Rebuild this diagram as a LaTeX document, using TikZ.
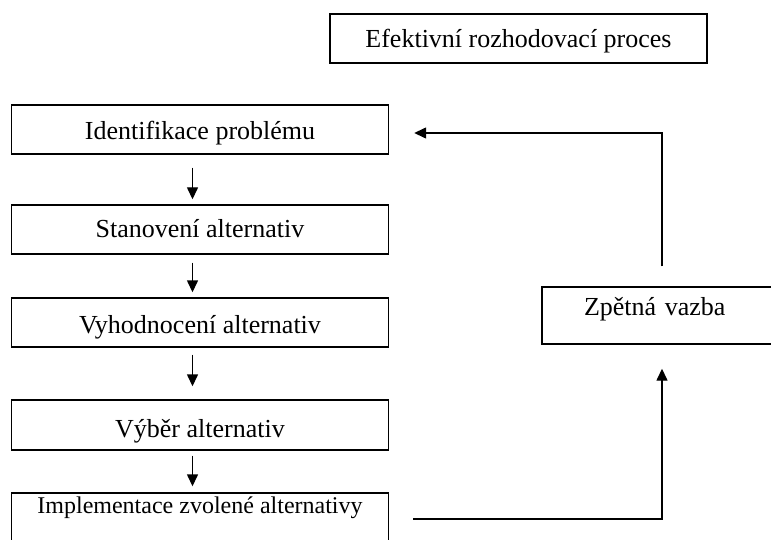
\documentclass[tikz,border=0pt]{standalone}
\usepackage{fontspec}
\setmainfont{Liberation Serif}
\usetikzlibrary{arrows.meta,calc}
\begin{document}
\begin{tikzpicture}[x=1pt,y=-1pt,
  box/.style={draw, line width=1.4pt, minimum width=377pt, minimum height=49pt, inner ysep=0pt, inner xsep=0pt, font=\fontsize{26}{30}\selectfont},
  arr/.style={line width=1.4pt, -{Triangle[length=12pt,width=11pt]}}]
\useasboundingbox (0,0) rectangle (771,540);
\clip (0,0) rectangle (771,540);

\node[box, text height=19pt, text depth=0pt] (title) at (518.5,38.5) {Efektivní rozhodovací proces};

\node[box, text height=21pt, text depth=0pt] (ident) at (200,129.5) {Identifikace problému};
\node[box, text height=15pt, text depth=0pt] (stan) at (200,229.5) {Stanovení alternativ};
\node[box, text height=21pt, text depth=0pt] (vyh) at (200,322.5) {Vyhodnocení alternativ};
\node[box, minimum height=50pt, text height=24pt, text depth=0pt] (vyb) at (200,425) {Výběr alternativ};
\node[box, minimum height=52pt, text height=0pt, text depth=12pt, font=\fontsize{24}{28}\selectfont] (impl) at (200,519) {Implementace zvolené alternativy};

\node[box, minimum width=240pt, minimum height=57pt, text width=156pt, inner xsep=42pt, align=left, text height=10pt, text depth=10pt] (zv) at (662,315.5) {Zpětná vazba};

\draw[arr] ([xshift=-7.5pt,yshift=-13pt]ident.south) -- ([xshift=-7.5pt,yshift=5pt]stan.north);
\draw[arr] ([xshift=-7.5pt,yshift=-8pt]stan.south) -- ([xshift=-7.5pt,yshift=5pt]vyh.north);
\draw[arr] ([xshift=-7.5pt,yshift=-7pt]vyh.south) -- ([xshift=-7.5pt,yshift=13pt]vyb.north);
\draw[arr] ([xshift=-7.5pt,yshift=-5pt]vyb.south) -- ([xshift=-7.5pt,yshift=6pt]impl.north);

\draw[arr] ([xshift=24pt]impl.east) -| ([yshift=-24pt]zv.south);
\draw[arr] ([yshift=20pt]zv.north) |- ([xshift=25pt,yshift=-3.5pt]ident.east);
\end{tikzpicture}
\end{document}
